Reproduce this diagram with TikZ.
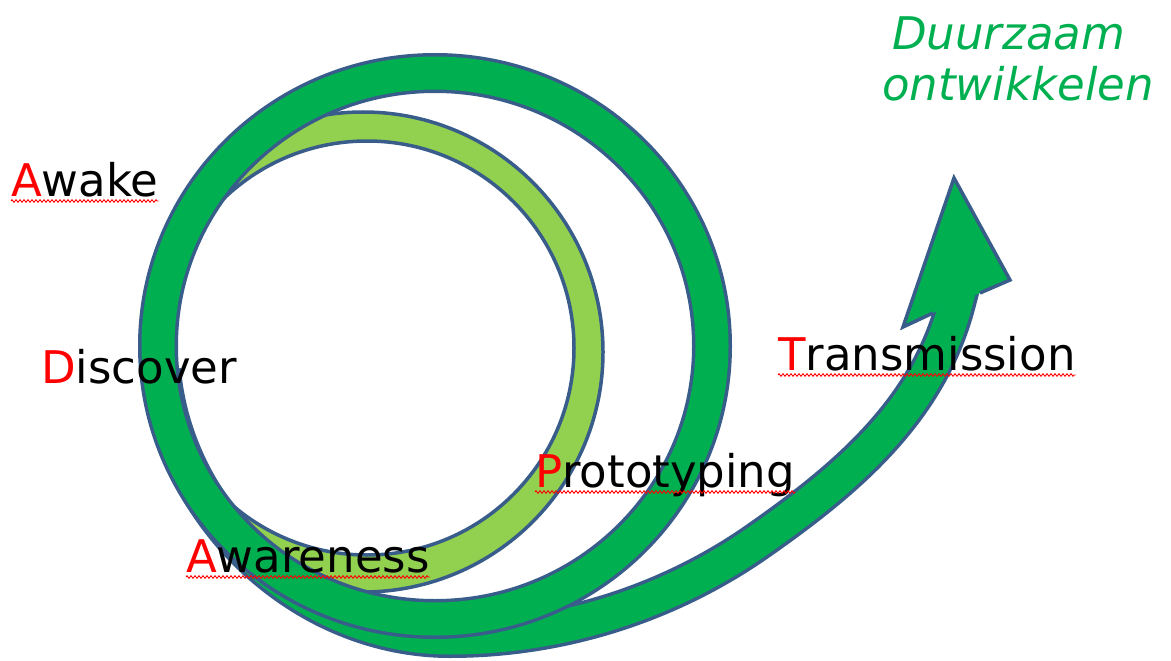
\documentclass[tikz,border=0pt]{standalone}
\usepackage{fontspec}
\setmainfont{DejaVu Sans}
\usetikzlibrary{decorations.pathmorphing}
\definecolor{dg}{RGB}{0,176,80}
\definecolor{lg}{RGB}{146,208,80}
\definecolor{bd}{RGB}{56,93,138}
\begin{document}
\begin{tikzpicture}[x=1pt,y=-1pt,
  lbl/.style={inner sep=0pt, anchor=base west, font=\fontsize{45}{50}\selectfont},
  goal/.style={inner sep=0pt, anchor=base west, text=dg, font=\fontsize{45}{50}\selectfont\itshape},
  wavy/.style={red, line width=0.9pt, decorate, decoration={zigzag, segment length=4pt, amplitude=1.3pt}},
  rim/.style={bd, line width=3.5pt}]
\useasboundingbox (0,0) rectangle (1171,661);

% named points of the outer spiral arm
\coordinate (s0) at (161,370);
\coordinate (s1) at (450,638);
\coordinate (s2) at (758,541);
\coordinate (s3) at (956,303);
\coordinate (s4) at (962,280);

% light green crescent (inner ring)
\begin{scope}
  \clip (435,346) ellipse [x radius=296, y radius=292];
  \fill[lg, even odd rule] (363,352) circle[radius=240] (367,348) circle[radius=207];
  \draw[rim] (363,352) circle[radius=240];
\end{scope}
\draw[rim] (367,348) circle[radius=207];

% outer spiral arm: border stroke
\draw[bd, line width=40pt] (s0) .. controls (174,518) and (305,638) .. (s1)
  .. controls (560,638) and (668,604) .. (s2)
  .. controls (848,478) and (928,410) .. (s3) -- (s4);

% arrow head
\fill[dg] (980,293) -- (1010,280) -- (954,178) -- (903,327) -- (933,313) -- cycle;
\draw[rim, line join=miter] (980,293) -- (1010,280) -- (954,178) -- (903,327) -- (933,313);

% outer spiral arm: green fill stroke
\draw[dg, line width=33pt] (s0) .. controls (174,518) and (305,638) .. (s1)
  .. controls (560,638) and (668,604) .. (s2)
  .. controls (848,478) and (928,410) .. (s3) -- (s4);

% main loop
\draw[draw=bd, line width=3.5pt, double=dg, double distance=33pt] (435,346) ellipse [x radius=277, y radius=273];

% labels
\node[lbl] (awake) at (11,196) {\textcolor{red}{A}wake};
\node[lbl] (disc) at (41,383) {\textcolor{red}{D}iscover};
\node[lbl] (trans) at (778,370) {\textcolor{red}{T}ransmission};
\node[lbl] (proto) at (535,487) {\textcolor{red}{P}rototyping};
\node[lbl] (aware) at (186,572) {\textcolor{red}{A}wareness};
\node[goal] (duur) at (892,50) {Duurzaam};
\node[goal] (ontw) at (882,101) {ontwikkelen};

\draw[wavy] ([yshift=-5pt]awake.base west) -- ([yshift=-5pt]awake.base east);
\draw[wavy] ([yshift=-5pt]trans.base west) -- ([yshift=-5pt]trans.base east);
\draw[wavy] ([yshift=-5pt]proto.base west) -- ([yshift=-5pt]proto.base east);
\draw[wavy] ([yshift=-5pt]aware.base west) -- ([yshift=-5pt]aware.base east);
\end{tikzpicture}
\end{document}
